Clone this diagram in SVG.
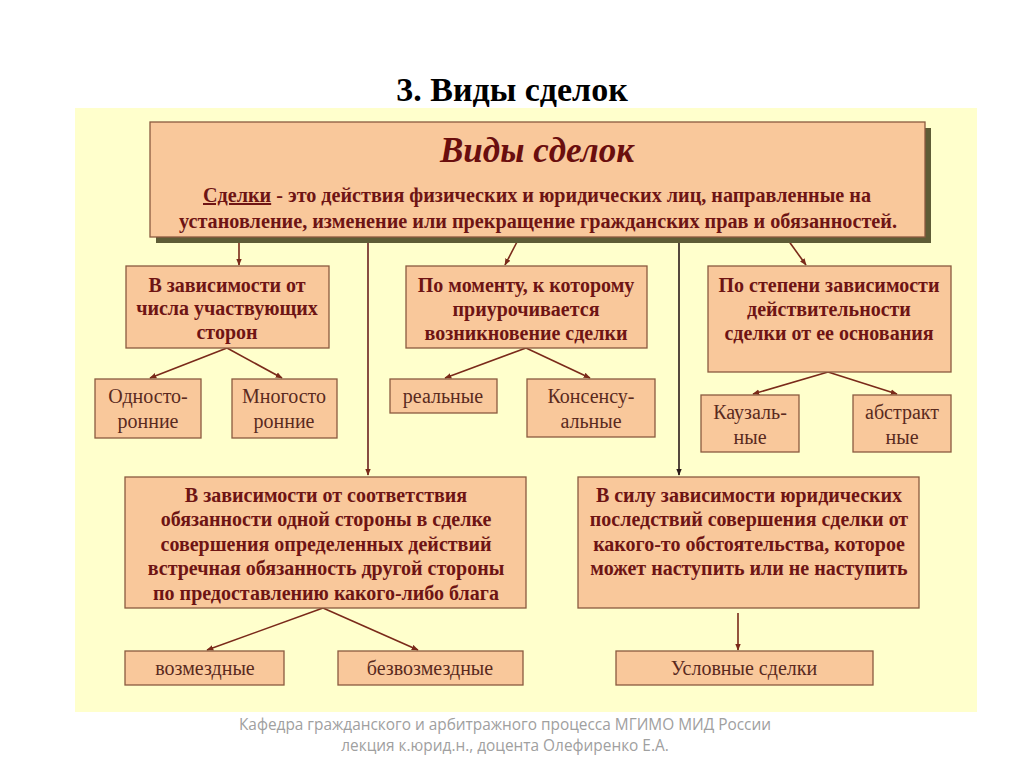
<svg xmlns="http://www.w3.org/2000/svg" width="1024" height="767" viewBox="0 0 1024 767">
<defs>
<style>
.box{fill:#F9C89B;stroke:#8A5A40;stroke-width:1.3}
.hd{font-family:"Liberation Serif",serif;font-weight:bold;font-size:20px;fill:#6E1414;text-anchor:middle}
.lf{font-family:"Liberation Serif",serif;font-size:20px;fill:#5A2A1E;text-anchor:middle}
.cn{stroke:#7A2A1A;stroke-width:1.6;fill:none;marker-end:url(#ah)}
.ft{font-family:"Open Sans","Liberation Sans",sans-serif;font-size:15.4px;fill:#A0A0A0;text-anchor:middle}
</style>
<marker id="ah" viewBox="0 0 10 10" refX="9" refY="5" markerWidth="7" markerHeight="7" orient="auto" markerUnits="userSpaceOnUse">
<path d="M0,1 L10,5 L0,9 z" fill="#7A2A1A"/>
</marker>
<marker id="ahk" viewBox="0 0 10 10" refX="9" refY="5" markerWidth="7" markerHeight="7" orient="auto" markerUnits="userSpaceOnUse">
<path d="M0,1 L10,5 L0,9 z" fill="#2A1A1A"/>
</marker>
</defs>
<rect x="0" y="0" width="1024" height="767" fill="#FFFFFF"/>
<text x="512" y="101" font-family="Liberation Serif,serif" font-weight="bold" font-size="34" text-anchor="middle" fill="#000">3. Виды сделок</text>
<rect x="75" y="108" width="902" height="604" fill="#FFFFCC"/>

<g id="connectors">
<line class="cn" x1="239" y1="240" x2="239" y2="265"/>
<line x1="368" y1="240" x2="368" y2="475" stroke="#6A2020" stroke-width="1.6" marker-end="url(#ah)"/>
<line class="cn" x1="518" y1="240" x2="505" y2="265"/>
<line x1="679" y1="240" x2="679" y2="475" stroke="#2A1A1A" stroke-width="1.6" marker-end="url(#ahk)"/>
<line class="cn" x1="788" y1="240" x2="806" y2="265"/>
<line class="cn" x1="227" y1="348" x2="150" y2="378"/>
<line class="cn" x1="227" y1="348" x2="282" y2="378"/>
<line class="cn" x1="526" y1="348" x2="445" y2="378"/>
<line class="cn" x1="526" y1="348" x2="590" y2="378"/>
<line class="cn" x1="828" y1="372" x2="753" y2="394"/>
<line class="cn" x1="828" y1="372" x2="897" y2="394"/>
<line class="cn" x1="323" y1="608" x2="207" y2="650"/>
<line class="cn" x1="323" y1="608" x2="418" y2="650"/>
<line class="cn" x1="738" y1="613" x2="738" y2="650"/>
</g>

<g id="top">
<rect x="156" y="128" width="775" height="115" fill="#5E5C36"/>
<rect class="box" x="150" y="122" width="775" height="115"/>
<text x="537" y="162" font-family="Liberation Serif,serif" font-weight="bold" font-style="italic" font-size="35" text-anchor="middle" fill="#6A0E0E">Виды сделок</text>
<text class="hd" x="537" y="202" textLength="668" lengthAdjust="spacingAndGlyphs"><tspan text-decoration="underline">Сделки</tspan> - это действия физических и юридических лиц, направленные на</text>
<text class="hd" x="538" y="228" textLength="718" lengthAdjust="spacingAndGlyphs">установление, изменение или прекращение гражданских прав и обязанностей.</text>
</g>

<g id="n1">
<rect class="box" x="126" y="266" width="203" height="82"/>
<text class="hd" x="227" y="292">В зависимости от</text>
<text class="hd" x="227" y="315">числа участвующих</text>
<text class="hd" x="227" y="339">сторон</text>
</g>
<g id="n2">
<rect class="box" x="406" y="266" width="241" height="82"/>
<text class="hd" x="526" y="292">По моменту, к которому</text>
<text class="hd" x="526" y="316">приурочивается</text>
<text class="hd" x="526" y="340">возникновение сделки</text>
</g>
<g id="n3">
<rect class="box" x="708" y="266" width="243" height="106"/>
<text class="hd" x="829" y="292">По степени зависимости</text>
<text class="hd" x="829" y="316">действительности</text>
<text class="hd" x="829" y="340">сделки от ее основания</text>
</g>

<g id="n1a">
<rect class="box" x="95" y="379" width="106" height="59"/>
<text class="lf" x="148" y="403">Односто-</text>
<text class="lf" x="148" y="428">ронние</text>
</g>
<g id="n1b">
<rect class="box" x="232" y="379" width="105" height="59"/>
<text class="lf" x="284" y="403">Многосто</text>
<text class="lf" x="284" y="428">ронние</text>
</g>
<g id="n2a">
<rect class="box" x="390" y="379" width="107" height="34"/>
<text class="lf" x="443" y="403">реальные</text>
</g>
<g id="n2b">
<rect class="box" x="527" y="379" width="128" height="58"/>
<text class="lf" x="591" y="403">Консенсу-</text>
<text class="lf" x="591" y="428">альные</text>
</g>
<g id="n3a">
<rect class="box" x="701" y="395" width="98" height="57"/>
<text class="lf" x="750" y="419">Каузаль-</text>
<text class="lf" x="750" y="444">ные</text>
</g>
<g id="n3b">
<rect class="box" x="853" y="395" width="98" height="57"/>
<text class="lf" x="902" y="419">абстракт</text>
<text class="lf" x="902" y="444">ные</text>
</g>

<g id="n4">
<rect class="box" x="125" y="477" width="401" height="131"/>
<text class="hd" x="326" y="502">В зависимости от соответствия</text>
<text class="hd" x="326" y="526">обязанности одной стороны в сделке</text>
<text class="hd" x="326" y="551">совершения определенных действий</text>
<text class="hd" x="326" y="575">встречная обязанность  другой стороны</text>
<text class="hd" x="326" y="600">по предоставлению какого-либо блага</text>
</g>
<g id="n5">
<rect class="box" x="578" y="477" width="341" height="131"/>
<text class="hd" x="749" y="502">В силу зависимости юридических</text>
<text class="hd" x="749" y="526">последствий совершения сделки от</text>
<text class="hd" x="749" y="551">какого-то обстоятельства, которое</text>
<text class="hd" x="749" y="575">может наступить или не наступить</text>
</g>

<g id="n4a">
<rect class="box" x="125" y="651" width="159" height="34"/>
<text class="lf" x="205" y="675">возмездные</text>
</g>
<g id="n4b">
<rect class="box" x="338" y="651" width="185" height="34"/>
<text class="lf" x="430" y="675">безвозмездные</text>
</g>
<g id="n5a">
<rect class="box" x="616" y="651" width="257" height="34"/>
<text class="lf" x="744" y="675">Условные сделки</text>
</g>

<text class="ft" x="505" y="730">Кафедра гражданского и арбитражного процесса МГИМО МИД России</text>
<text class="ft" x="505" y="751">лекция к.юрид.н., доцента Олефиренко  Е.А.</text>
</svg>
